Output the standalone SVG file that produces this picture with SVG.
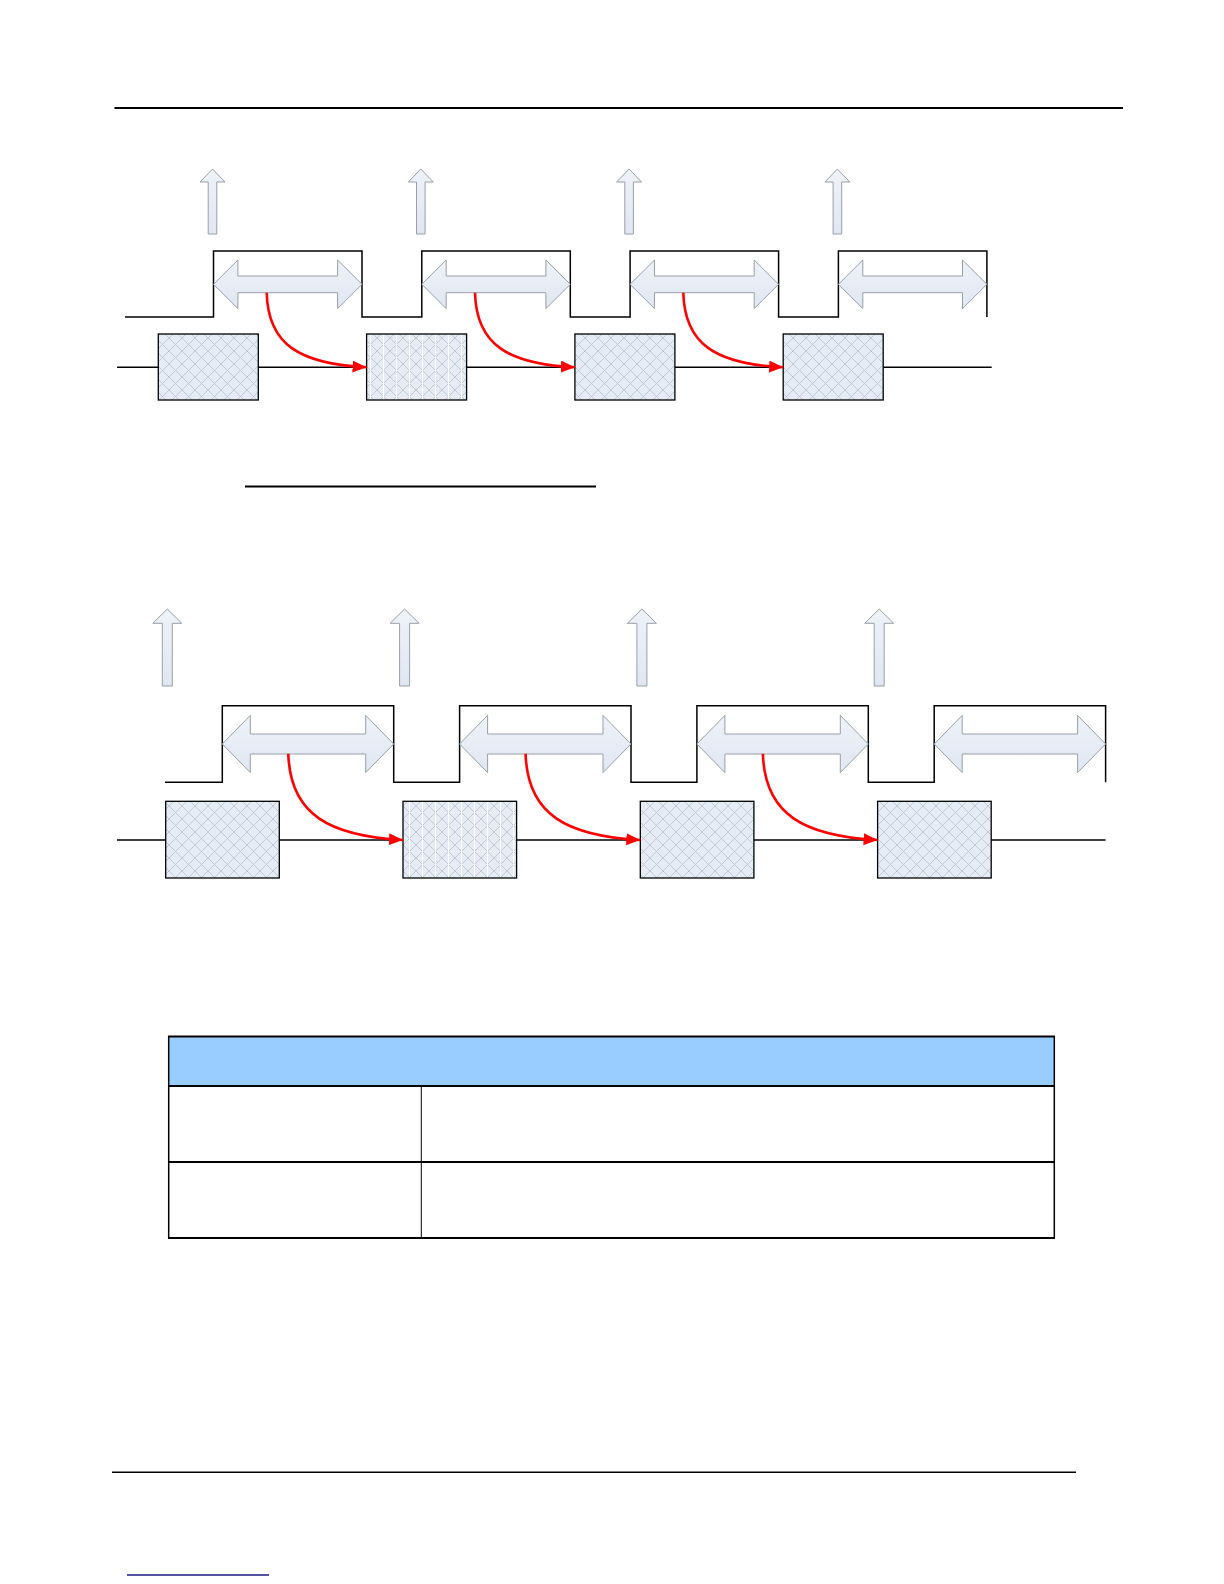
<svg xmlns="http://www.w3.org/2000/svg" xmlns:xlink="http://www.w3.org/1999/xlink" width="1224" height="1584" viewBox="0 0 1224 1584">
<style>
.rule{stroke:#000;stroke-width:2;fill:none}
.sig{stroke:#000;stroke-width:1.5;fill:none}
.blk{fill:url(#diam);stroke:#000;stroke-width:1.3}
.blk2{fill:url(#diamv);stroke:#000;stroke-width:1.3}
.shape{fill:url(#grad);stroke:#9a9ea6;stroke-width:1}
.red{stroke:#ff0000;stroke-width:2.6;fill:none;marker-end:url(#ah)}
.tb{stroke:#000;fill:none}
</style>
<defs>
<linearGradient id="grad" x1="0" y1="0" x2="0" y2="1">
<stop offset="0" stop-color="#eef2f9"/>
<stop offset="1" stop-color="#e0e7f2"/>
</linearGradient>
<pattern id="diam" patternUnits="userSpaceOnUse" width="13" height="13">
<rect width="13" height="13" fill="#e6ecf6"/>
<path d="M0,0 L13,13 M13,0 L0,13" stroke="#c2c9d6" stroke-width="1"/>
</pattern>
<pattern id="diamv" patternUnits="userSpaceOnUse" width="13" height="13">
<rect width="13" height="13" fill="#e6ecf6"/>
<path d="M0,0 L13,13 M13,0 L0,13" stroke="#c2c9d6" stroke-width="1"/>
<path d="M6.5,0 V13" stroke="#ffffff" stroke-width="1"/>
</pattern>
<marker id="ah" markerUnits="userSpaceOnUse" markerWidth="16" markerHeight="14" refX="14" refY="6" orient="auto">
<path d="M0,0 L14,6 L0,12 Z" fill="#ff0000"/>
</marker>
<path id="dA1" class="shape" d="M0,0 L24.4,-24.3 L24.4,-8.3 L124.1,-8.3 L124.1,-24.3 L148.5,0 L124.1,24.3 L124.1,8.4 L24.4,8.4 L24.4,24.3 Z"/>
<path id="dA2" class="shape" d="M0,0 L28,-28.6 L28,-10 L143.4,-10 L143.4,-28.6 L171.4,0 L143.4,28.6 L143.4,10 L28,10 L28,28.6 Z"/>
<path id="uA1" class="shape" d="M0,0 L12.5,13 L4.3,13 L4.3,65 L-4.3,65 L-4.3,13 L-12.5,13 Z"/>
<path id="uA2" class="shape" d="M0,0 L14.5,14.3 L5,14.3 L5,77 L-5,77 L-5,14.3 L-14.5,14.3 Z"/>
</defs>

<rect width="1224" height="1584" fill="#fff"/>

<g id="page-rules">
<line class="rule" x1="114.5" y1="108" x2="1123" y2="108"/>
<line class="rule" x1="245" y1="486.5" x2="596" y2="486.5"/>
<line x1="112" y1="1472.3" x2="1076" y2="1472.3" stroke="#000" stroke-width="1.6"/>
<line x1="127" y1="1575" x2="269" y2="1575" stroke="#1a1a80" stroke-width="1.4"/>
</g>

<!-- Diagram 1 -->
<g id="d1-signals">
<path class="sig" d="M125,317 H213.5 V251 H362 V317 H421.8 V251 H570.3 V317 H630.1 V251 H778.6 V317 H838.4 V251 H986.9 V317"/>
<line class="sig" x1="117" y1="367.3" x2="991.7" y2="367.3"/>
</g>
<g id="d1-up1"><use href="#uA1" x="212.5" y="169"/></g>
<g id="d1-up2"><use href="#uA1" x="420.8" y="169"/></g>
<g id="d1-up3"><use href="#uA1" x="629.1" y="169"/></g>
<g id="d1-up4"><use href="#uA1" x="837.4" y="169"/></g>
<g id="d1-span1"><use href="#dA1" x="213.5" y="284.3"/></g>
<g id="d1-span2"><use href="#dA1" x="421.8" y="284.3"/></g>
<g id="d1-span3"><use href="#dA1" x="630.1" y="284.3"/></g>
<g id="d1-span4"><use href="#dA1" x="838.4" y="284.3"/></g>
<g id="d1-box1"><rect class="blk" x="158.3" y="334" width="100" height="66"/></g>
<g id="d1-box2"><rect class="blk2" x="366.6" y="334" width="100" height="66"/></g>
<g id="d1-box3"><rect class="blk" x="574.9" y="334" width="100" height="66"/></g>
<g id="d1-box4"><rect class="blk" x="783.2" y="334" width="100" height="66"/></g>

<!-- Diagram 2 -->
<g id="d2-signals">
<path class="sig" d="M165,782.3 H222.3 V705.7 H393.7 V782.3 H459.6 V705.7 H631 V782.3 H696.9 V705.7 H868.3 V782.3 H934.2 V705.7 H1105.6 V782.3"/>
<line class="sig" x1="117" y1="840" x2="1105.6" y2="840"/>
</g>
<g id="d2-up1"><use href="#uA2" x="167.3" y="609"/></g>
<g id="d2-up2"><use href="#uA2" x="404.6" y="609"/></g>
<g id="d2-up3"><use href="#uA2" x="641.9" y="609"/></g>
<g id="d2-up4"><use href="#uA2" x="879.2" y="609"/></g>
<g id="d2-span1"><use href="#dA2" x="222.3" y="744"/></g>
<g id="d2-span2"><use href="#dA2" x="459.6" y="744"/></g>
<g id="d2-span3"><use href="#dA2" x="696.9" y="744"/></g>
<g id="d2-span4"><use href="#dA2" x="934.2" y="744"/></g>
<g id="d2-box1"><rect class="blk" x="165.7" y="801.3" width="113.6" height="76.7"/></g>
<g id="d2-box2"><rect class="blk2" x="403" y="801.3" width="113.6" height="76.7"/></g>
<g id="d2-box3"><rect class="blk" x="640.3" y="801.3" width="113.6" height="76.7"/></g>
<g id="d2-box4"><rect class="blk" x="877.6" y="801.3" width="113.6" height="76.7"/></g>

<g id="connectors">
<path class="red" d="M266.7,292.7 C268,345 300,364 366.6,367.3"/>
<path class="red" d="M475,292.7 C476.3,345 508.3,364 574.9,367.3"/>
<path class="red" d="M683.3,292.7 C684.6,345 716.6,364 783.2,367.3"/>
<path class="red" d="M288.3,753.7 C290,815 330,836 403,840"/>
<path class="red" d="M525.6,753.7 C527.3,815 567.3,836 640.3,840"/>
<path class="red" d="M762.9,753.7 C764.6,815 804.6,836 877.6,840"/>
</g>

<!-- Table -->
<g id="table">
<rect x="168.7" y="1036.5" width="885.6" height="49.5" fill="#99ccff"/>
<line class="tb" stroke-width="2" x1="168" y1="1036.5" x2="1055" y2="1036.5"/>
<line class="tb" stroke-width="2" x1="168" y1="1086" x2="1055" y2="1086"/>
<line class="tb" stroke-width="2" x1="168" y1="1162" x2="1055" y2="1162"/>
<line class="tb" stroke-width="2" x1="168" y1="1238" x2="1055" y2="1238"/>
<line class="tb" stroke-width="1.5" x1="168.7" y1="1036" x2="168.7" y2="1238.5"/>
<line class="tb" stroke-width="1.5" x1="1054.3" y1="1036" x2="1054.3" y2="1238.5"/>
<line class="tb" stroke-width="1" x1="421.3" y1="1086" x2="421.3" y2="1238"/>
</g>
</svg>
